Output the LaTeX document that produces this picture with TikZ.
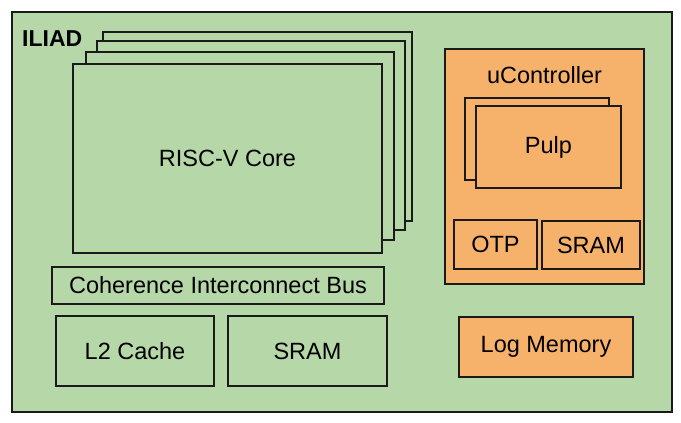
\documentclass[tikz,border=0pt]{standalone}
\usepackage{fontspec}
\setmainfont{Liberation Sans}
\definecolor{chipgreen}{HTML}{B6D7A8}
\definecolor{ucorange}{HTML}{F6B26B}
\definecolor{edge}{HTML}{1A1A1A}
\begin{document}
\begin{tikzpicture}[x=1pt,y=-1pt,
    blk/.style={draw=edge,line width=1.2pt,inner sep=0pt,font=\fontsize{23.5}{27}\selectfont},
    gblk/.style={blk,fill=chipgreen},
    oblk/.style={blk,fill=ucorange}]
    \useasboundingbox (0,0) rectangle (681,423);

    % Chip
    \node[gblk,minimum width=660,minimum height=400] (chip) at (342,212) {};
    \node[anchor=west,inner sep=0pt,font=\fontsize{23}{27}\selectfont\bfseries] (iliad) at (22,39) {ILIAD};

    % RISC-V cores (stacked)
    \node[gblk,minimum width=309,minimum height=189] (core3) at (257.5,126.5) {};
    \node[gblk,minimum width=308,minimum height=189] (core2) at (251,135.5) {};
    \node[gblk,minimum width=308,minimum height=188] (core1) at (240,146) {};
    \node[gblk,minimum width=309,minimum height=189] (core) at (227.5,158.5) {RISC-V Core};

    % Bus and memories
    \node[gblk,minimum width=332,minimum height=37] (bus) at (218,285.5) {Coherence Interconnect Bus};
    \node[gblk,minimum width=158,minimum height=70] (l2) at (135,351) {L2 Cache};
    \node[gblk,minimum width=159,minimum height=70] (sram) at (307.5,351) {SRAM};

    % uController
    \node[oblk,minimum width=199,minimum height=235] (uc) at (544.5,166.5) {};
    \node[inner sep=0pt,font=\fontsize{23.5}{27}\selectfont] (uclabel) at (544.5,75) {uController};
    \node[oblk,minimum width=144,minimum height=82] (pulp2) at (537,139) {};
    \node[oblk,minimum width=145,minimum height=82] (pulp) at (548.5,147) {Pulp};
    \node[oblk,minimum width=83,minimum height=49] (otp) at (495.5,244.5) {OTP};
    \node[oblk,minimum width=98,minimum height=48] (ucsram) at (591,245) {SRAM};

    % Log memory
    \node[oblk,minimum width=174,minimum height=60] (logmem) at (546,347) {Log Memory};
\end{tikzpicture}
\end{document}
